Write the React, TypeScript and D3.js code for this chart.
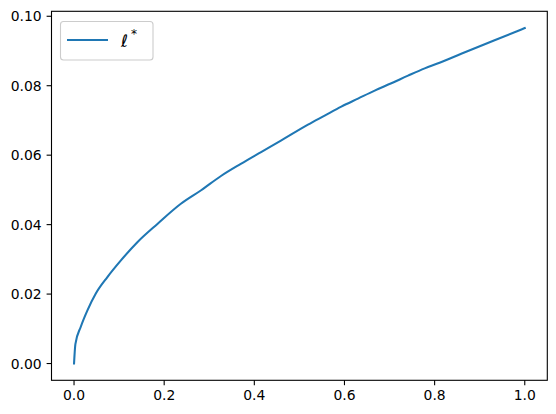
import React from "react";
import * as d3 from "d3";

const xs = [0, 0.003, 0.015, 0.03, 0.048, 0.074, 0.104, 0.141, 0.185, 0.237, 0.282, 0.326, 0.370, 0.415, 0.459, 0.519, 0.556, 0.593, 0.630, 0.667, 0.704, 0.741, 0.778, 0.811, 0.859, 0.933, 1.0];
const ys = [0, 0.0056, 0.0106, 0.0154, 0.0201, 0.0249, 0.0297, 0.035, 0.0402, 0.0460, 0.0499, 0.0540, 0.0575, 0.0609, 0.0642, 0.0688, 0.0714, 0.0740, 0.0763, 0.0786, 0.0807, 0.0829, 0.0850, 0.0866, 0.0892, 0.0931, 0.0966];
const xTicks = [0, 0.2, 0.4, 0.6, 0.8, 1.0];
const yTicks = [0, 0.02, 0.04, 0.06, 0.08, 0.1];
const seriesLabel = "ℓ";

const W = 556, H = 414;
const L = 51.5, R = 547.3, T = 11.3, B = 380.3;

export default function App() {
  const xMin = d3.min(xs)!, xMax = d3.max(xs)!;
  const yMin = d3.min(ys)!, yMax = d3.max(ys)!;
  const xm = (xMax - xMin) * 0.05, ym = (yMax - yMin) * 0.05;
  const x = d3.scaleLinear().domain([xMin - xm, xMax + xm]).range([L, R]);
  const y = d3.scaleLinear().domain([yMin - ym, yMax + ym]).range([B, T]);
  const pts: [number, number][] = xs.map((v, i) => [v, ys[i]]);
  const line = d3.line<[number, number]>().x(d => x(d[0])).y(d => y(d[1])).curve(d3.curveMonotoneX);
  const font = "DejaVu Sans, sans-serif";
  return (
    <svg width={W} height={H} style={{ position: "absolute", left: 0, top: 0, background: "#fff" }} fontFamily={font}>
      <rect x={0} y={0} width={W} height={H} fill="#fff" />
      <path d={line(pts)!} fill="none" stroke="#1f77b4" strokeWidth={2.08} strokeLinejoin="round" strokeLinecap="square" />
      {xTicks.map(t => (
        <g key={"x" + t}>
          <line x1={x(t)} x2={x(t)} y1={B} y2={B + 4.9} stroke="#000" strokeWidth={1.1} />
          <text x={x(t)} y={B + 19.5} fontSize={13.9} textAnchor="middle" fill="#000">{t.toFixed(1)}</text>
        </g>
      ))}
      {yTicks.map(t => (
        <g key={"y" + t}>
          <line x1={L - 4.9} x2={L} y1={y(t)} y2={y(t)} stroke="#000" strokeWidth={1.1} />
          <text x={L - 9.8} y={y(t) + 5} fontSize={13.9} textAnchor="end" fill="#000">{t.toFixed(2)}</text>
        </g>
      ))}
      <rect x={L} y={T} width={R - L} height={B - T} fill="none" stroke="#000" strokeWidth={1.1} />
      <rect x={60.5} y={21.5} width={92.5} height={38.5} rx={3} fill="#fff" fillOpacity={0.8} stroke="#cccccc" strokeWidth={1.1} />
      <line x1={67} x2={108} y1={40} y2={40} stroke="#1f77b4" strokeWidth={2.08} />
      <text x={121} y={46.5} fontSize={17} fill="#000" fontStyle="italic">
        {seriesLabel}
        <tspan dx={3} dy={-9} fontSize={12} fontStyle="normal">*</tspan>
      </text>
    </svg>
  );
}
